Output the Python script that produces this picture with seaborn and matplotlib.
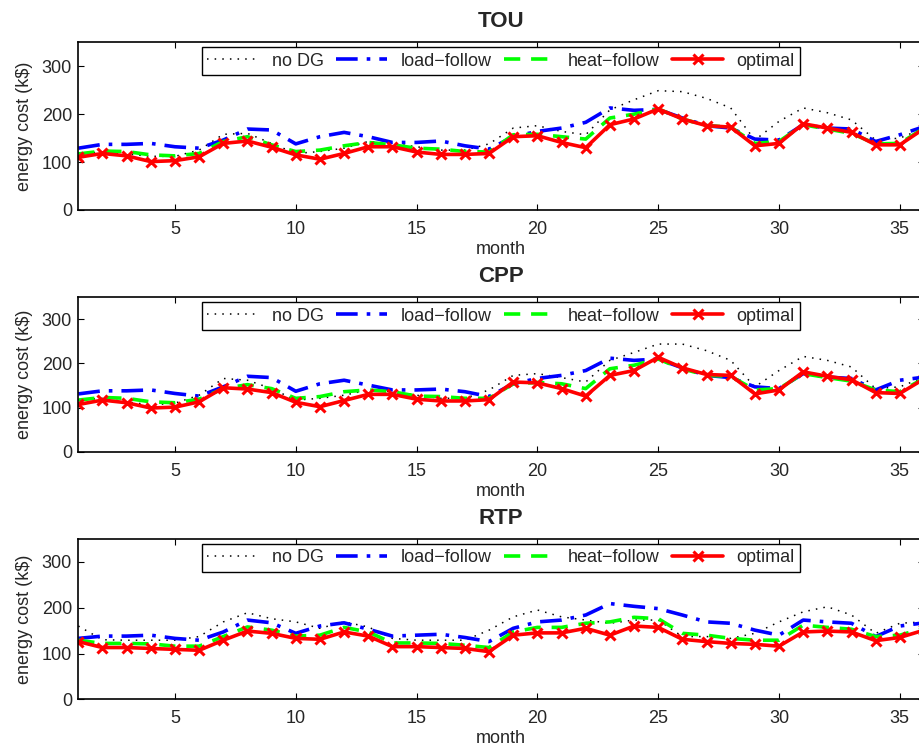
import matplotlib
matplotlib.use("Agg")
import matplotlib.pyplot as plt
import seaborn as sns
import numpy as np
import pandas as pd

months = list(range(1, 37))
series_names = ["no DG", "load\u2212follow", "heat\u2212follow", "optimal"]
panel_titles = ["TOU", "CPP", "RTP"]
x_ticks = [5, 10, 15, 20, 25, 30, 35]
y_ticks = [0, 100, 200, 300]

tou_nodg = [118, 121, 117, 112, 112, 125, 158, 160, 139, 118, 122, 129, 143, 139, 132, 125, 125, 138,
            171, 176, 164, 157, 209, 230, 249, 247, 233, 213, 146, 185, 213, 203, 188, 146, 150, 171]
tou_load = [129, 137, 137, 139, 132, 129, 146, 169, 167, 138, 153, 162, 153, 141, 141, 144, 134, 127,
            153, 164, 171, 183, 213, 208, 210, 192, 176, 171, 148, 146, 178, 171, 169, 143, 157, 174]
tou_heat = [117, 123, 122, 115, 113, 118, 143, 153, 136, 122, 125, 134, 141, 136, 129, 127, 122, 121,
            157, 158, 153, 148, 192, 200, 211, 190, 176, 173, 139, 143, 178, 169, 160, 138, 139, 171]
tou_opt = [110, 118, 113, 101, 103, 111, 139, 144, 131, 115, 106, 118, 132, 132, 121, 116, 116, 118,
           153, 155, 141, 130, 178, 190, 211, 190, 176, 173, 134, 139, 180, 171, 162, 136, 136, 170]

cpp_nodg = [117, 121, 113, 106, 110, 128, 166, 162, 143, 117, 121, 128, 140, 136, 128, 121, 121, 140,
            173, 177, 168, 158, 207, 225, 244, 244, 229, 207, 147, 184, 216, 207, 192, 143, 147, 169]
cpp_load = [131, 138, 138, 140, 132, 126, 147, 171, 168, 137, 154, 162, 151, 140, 140, 142, 136, 125,
            154, 166, 173, 184, 212, 207, 210, 190, 173, 168, 147, 143, 177, 169, 166, 140, 162, 169]
cpp_heat = [117, 123, 121, 113, 111, 119, 143, 152, 143, 121, 125, 136, 140, 136, 126, 125, 121, 121,
            154, 157, 154, 143, 188, 196, 210, 188, 173, 171, 140, 143, 177, 168, 160, 140, 136, 166]
cpp_opt = [107, 117, 111, 99, 101, 113, 145, 142, 134, 112, 102, 116, 130, 130, 119, 115, 115, 118,
           158, 156, 143, 126, 173, 184, 214, 190, 175, 173, 131, 140, 181, 171, 163, 134, 132, 165]

rtp_nodg = [160, 130, 129, 129, 129, 137, 169, 189, 176, 169, 155, 169, 158, 133, 129, 129, 129, 151,
            180, 195, 180, 173, 166, 173, 173, 137, 137, 133, 144, 169, 191, 202, 184, 144, 166, 169]
rtp_load = [133, 138, 138, 140, 133, 129, 147, 173, 167, 144, 160, 167, 153, 138, 140, 142, 135, 126,
            155, 169, 173, 184, 209, 203, 198, 184, 169, 166, 151, 140, 173, 169, 166, 137, 160, 167]
rtp_heat = [129, 122, 122, 121, 116, 116, 137, 158, 151, 138, 140, 157, 147, 123, 123, 122, 118, 113,
            147, 157, 157, 166, 169, 179, 176, 144, 140, 133, 129, 129, 162, 157, 153, 137, 140, 155]
rtp_opt = [126, 113, 113, 111, 109, 107, 129, 149, 144, 133, 131, 147, 138, 115, 115, 113, 111, 104,
           140, 145, 145, 155, 140, 160, 157, 131, 126, 122, 120, 116, 147, 149, 147, 128, 135, 151]

panels = [
    [tou_nodg, tou_load, tou_heat, tou_opt],
    [cpp_nodg, cpp_load, cpp_heat, cpp_opt],
    [rtp_nodg, rtp_load, rtp_heat, rtp_opt],
]

sns.set_style("ticks")
plt.rcParams["font.family"] = ["Liberation Sans", "DejaVu Sans"]

styles = [
    dict(color="black", linewidth=1.1, linestyle=(0, (1, 4))),
    dict(color="#0000ff", linewidth=2.6, linestyle=(0, (6, 2.5, 1, 2.5))),
    dict(color="#00ff00", linewidth=2.6, linestyle=(0, (4.5, 3))),
    dict(color="#ff0000", linewidth=2.6, linestyle="-", marker="x",
         markersize=7, markeredgewidth=2.2, markeredgecolor="#ff0000"),
]

W, H = 919, 749
fig = plt.figure(figsize=(W / 100, H / 100), dpi=100)
# (top_px, bottom_px) of each axes
ax_px = [(42.3, 210.0), (297.3, 451.7), (539.0, 699.3)]
left_px, right_px = 78.3, 924.0

for p, (vals, title, (tp, bp)) in enumerate(zip(panels, panel_titles, ax_px)):
    ax = fig.add_axes([left_px / W, (H - bp) / H, (right_px - left_px) / W, (bp - tp) / H])
    for name, v, st in zip(series_names, vals, styles):
        df = pd.DataFrame({"month": months, "cost": v})
        sns.lineplot(data=df, x="month", y="cost", ax=ax, label=name, **st)
    ax.set_xlim(1, 36)
    ax.set_ylim(0, 350)
    ax.set_xticks(x_ticks)
    ax.set_yticks(y_ticks)
    ax.tick_params(direction="in", top=True, right=True, length=4.5, width=0.8,
                   labelsize=13, color="black")
    ax.tick_params(axis="x", pad=8)
    ax.tick_params(axis="y", pad=4.5)
    for s in ax.spines.values():
        s.set_linewidth(1.2)
        s.set_color("black")
    ax.set_xlabel("month", fontsize=13, labelpad=2)
    ax.set_ylabel("energy cost (k$)", fontsize=13, labelpad=6)
    ax.set_title(title, fontsize=16, fontweight="bold", pad=11)
    leg = ax.legend(loc="upper center", ncol=4, fontsize=13, frameon=True, fancybox=False,
                    framealpha=1, edgecolor="black", handlelength=2.8, handletextpad=0.75,
                    columnspacing=0.7, borderpad=0.3, borderaxespad=0.28, numpoints=1)
    leg.get_frame().set_linewidth(1.0)

fig.savefig("out.png", dpi=100)
